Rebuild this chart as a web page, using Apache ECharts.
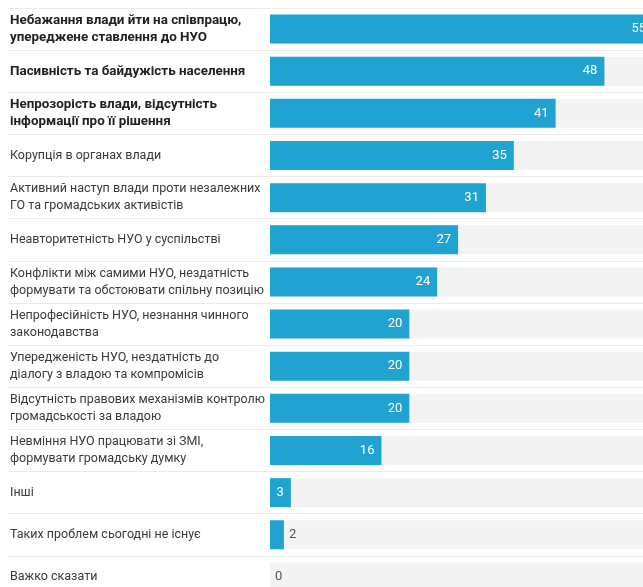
<!DOCTYPE html>
<html>
<head>
<meta charset="utf-8">
<script src="https://cdn.jsdelivr.net/npm/echarts@6/dist/echarts.min.js"></script>
<style>
  html, body { margin: 0; padding: 0; background: #fff; overflow: hidden; }
  /* the plot runs past the page edge, so the canvas is larger than the view */
  #chart { width: 720px; height: 620px; }
</style>
</head>
<body>
<div id="chart"></div>
<script>
// Problems hindering cooperation, share of respondents (%)
const categories = [
  'Небажання влади йти на співпрацю,\nупереджене ставлення до НУО',
  'Пасивність та байдужість населення',
  'Непрозорість влади, відсутність\nінформації про її рішення',
  'Корупція в органах влади',
  'Активний наступ влади проти незалежних\nГО та громадських активістів',
  'Неавторитетність НУО у суспільстві',
  'Конфлікти між самими НУО, нездатність\nформувати та обстоювати спільну позицію',
  'Непрофесійність НУО, незнання чинного\nзаконодавства',
  'Упередженість НУО, нездатність до\nдіалогу з владою та компромісів',
  'Відсутність правових механізмів контролю\nгромадськості за владою',
  'Невміння НУО працювати зі ЗМІ,\nформувати громадську думку',
  'Інші',
  'Таких проблем сьогодні не існує',
  'Важко сказати'
];
const values = [55, 48, 41, 35, 31, 27, 24, 20, 20, 20, 16, 3, 2, 0];
// the three leading answers are set in bold
const boldCount = 3;

const chart = echarts.init(document.getElementById('chart'), null, { renderer: 'canvas' });

const seriesData = values.map(function (v) {
  const small = v < 3;
  return {
    value: v,
    label: small
      ? { position: 'right', distance: 5, color: '#555' }
      : { position: 'insideRight', distance: 7, color: '#fff' }
  };
});

chart.setOption({
  animation: false,
  grid: { left: 270, top: 8, width: 418, height: 590, containLabel: false },
  xAxis: {
    type: 'value', min: 0, max: 60,
    show: false
  },
  yAxis: {
    type: 'category',
    inverse: true,
    data: categories,
    axisLine: { show: false },
    axisTick: {
      show: true, length: 262, alignWithLabel: false,
      lineStyle: { color: '#ebebeb', width: 1 }
    },
    splitLine: { show: true, lineStyle: { color: '#ececec', width: 1 } },
    axisLabel: {
      align: 'left',
      margin: 260,
      lineHeight: 17,
      formatter: function (val, idx) {
        const style = idx < boldCount ? 'b' : 'n';
        return val.split('\n').map(function (s) { return '{' + style + '|' + s + '}'; }).join('\n');
      },
      rich: {
        b: { fontFamily: 'Roboto', fontSize: 13.4, fontWeight: 'bold', color: '#222', lineHeight: 17 },
        n: { fontFamily: 'Roboto', fontSize: 12.5, color: '#3a3a3a', lineHeight: 17 }
      }
    }
  },
  series: [{
    type: 'bar',
    data: seriesData,
    barWidth: 29,
    itemStyle: { color: '#20a3d1' },
    showBackground: true,
    backgroundStyle: { color: '#f3f3f3' },
    label: {
      show: true,
      fontFamily: 'Roboto',
      fontSize: 13
    }
  }]
});
</script>
</body>
</html>
